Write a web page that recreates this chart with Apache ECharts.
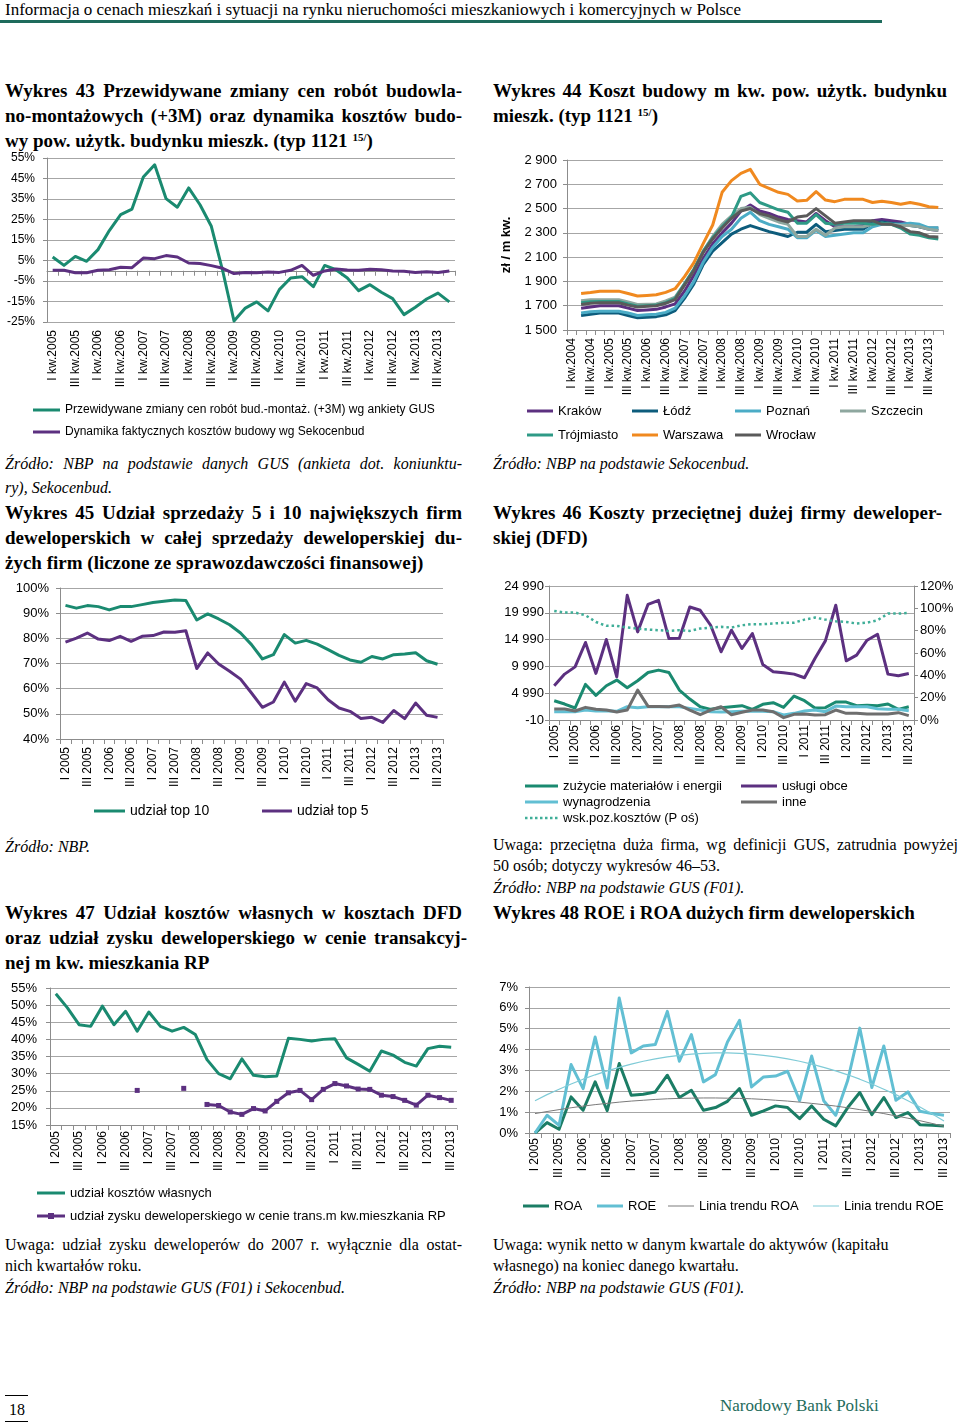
<!DOCTYPE html>
<html><head><meta charset="utf-8">
<script src="https://cdn.jsdelivr.net/npm/echarts@6/dist/echarts.min.js"></script>
<style>
body{margin:0;background:#fff;}
#page{position:relative;width:960px;height:1423px;overflow:hidden;font-family:'Liberation Serif',serif;color:#000;background:#fff;}
.ln{position:absolute;white-space:nowrap;font-size:16px;line-height:22px;}
.b{font-weight:bold;font-size:19px;line-height:25px;}
.i{font-style:italic;}
.j{text-align:justify;text-align-last:justify;white-space:normal;overflow:visible;}
.c{position:absolute;}
sup{font-size:11px;line-height:0;vertical-align:6px;}
</style></head>
<body>
<div id="page">
  <div class="ln" style="left:5px;top:0px;line-height:20px;font-size:17px;">Informacja o cenach mieszkań i sytuacji na rynku nieruchomości mieszkaniowych i komercyjnych w Polsce</div>
  <div style="position:absolute;left:0;top:20px;width:882px;height:3px;background:#1e6b5c;"></div>

  <div class="ln b j" style="left:5px;top:78px;width:457px;">Wykres 43 Przewidywane zmiany cen robót budowla-</div>
  <div class="ln b j" style="left:5px;top:103px;width:457px;">no-montażowych (+3M) oraz dynamika kosztów budo-</div>
  <div class="ln b" style="left:5px;top:128px;">wy pow. użytk. budynku mieszk. (typ 1121 <sup>15/</sup>)</div>

  <div class="ln b j" style="left:493px;top:78px;width:454px;">Wykres 44 Koszt budowy m kw. pow. użytk. budynku</div>
  <div class="ln b" style="left:493px;top:103px;">mieszk. (typ 1121 <sup>15/</sup>)</div>

  <div id="c43" class="c" style="left:0;top:150px;width:480px;height:300px;"></div>
  <div id="c44" class="c" style="left:490px;top:140px;width:470px;height:310px;"></div>

  <div class="ln i j" style="left:5px;top:453px;width:457px;">Źródło: NBP na podstawie danych GUS (ankieta dot. koniunktu-</div>
  <div class="ln i" style="left:5px;top:477px;">ry), Sekocenbud.</div>
  <div class="ln i" style="left:493px;top:453px;">Źródło: NBP na podstawie Sekocenbud.</div>

  <div class="ln b j" style="left:5px;top:500px;width:457px;">Wykres 45 Udział sprzedaży 5 i 10 największych firm</div>
  <div class="ln b j" style="left:5px;top:525px;width:457px;">deweloperskich w całej sprzedaży deweloperskiej du-</div>
  <div class="ln b" style="left:5px;top:550px;">żych firm (liczone ze sprawozdawczości finansowej)</div>

  <div class="ln b j" style="left:493px;top:500px;width:449px;">Wykres 46 Koszty przeciętnej dużej firmy deweloper-</div>
  <div class="ln b" style="left:493px;top:525px;">skiej (DFD)</div>

  <div id="c45" class="c" style="left:0;top:575px;width:480px;height:260px;"></div>
  <div id="c46" class="c" style="left:490px;top:570px;width:470px;height:260px;"></div>

  <div class="ln i" style="left:5px;top:836px;">Źródło: NBP.</div>
  <div class="ln j" style="left:493px;top:834px;width:465px;">Uwaga: przeciętna duża firma, wg definicji GUS, zatrudnia powyżej</div>
  <div class="ln" style="left:493px;top:855px;">50 osób; dotyczy wykresów 46–53.</div>
  <div class="ln i" style="left:493px;top:877px;">Źródło: NBP na podstawie GUS (F01).</div>
  <div class="ln b" style="left:493px;top:900px;">Wykres 48 ROE i ROA dużych firm deweloperskich</div>

  <div class="ln b j" style="left:5px;top:900px;width:457px;">Wykres 47 Udział kosztów własnych w kosztach DFD</div>
  <div class="ln b j" style="left:5px;top:925px;width:462px;">oraz udział zysku deweloperskiego w cenie transakcyj-</div>
  <div class="ln b" style="left:5px;top:950px;">nej m kw. mieszkania RP</div>

  <div id="c47" class="c" style="left:0;top:975px;width:480px;height:255px;"></div>
  <div id="c48" class="c" style="left:490px;top:975px;width:470px;height:245px;"></div>

  <div class="ln j" style="left:5px;top:1234px;width:457px;">Uwaga: udział zysku deweloperów do 2007 r. wyłącznie dla ostat-</div>
  <div class="ln" style="left:5px;top:1255px;">nich kwartałów roku.</div>
  <div class="ln i" style="left:5px;top:1277px;">Źródło: NBP na podstawie GUS (F01) i Sekocenbud.</div>

  <div class="ln" style="left:493px;top:1234px;">Uwaga: wynik netto w danym kwartale do aktywów (kapitału</div>
  <div class="ln" style="left:493px;top:1255px;">własnego) na koniec danego kwartału.</div>
  <div class="ln i" style="left:493px;top:1277px;">Źródło: NBP na podstawie GUS (F01).</div>

  <div style="position:absolute;left:5px;top:1395px;width:23px;height:1px;background:#000;"></div>
  <div class="ln" style="left:9px;top:1399px;font-size:16px;">18</div>
  <div style="position:absolute;left:5px;top:1421px;width:23px;height:1px;background:#000;"></div>
  <div class="ln" style="left:720px;top:1395px;font-size:17px;color:#1e6b5c;">Narodowy Bank Polski</div>
</div>
<script>
// ---------- DATA ----------
const cats43 = ['I kw.2005','II kw.2005','III kw.2005','IV kw.2005','I kw.2006','II kw.2006','III kw.2006','IV kw.2006','I kw.2007','II kw.2007','III kw.2007','IV kw.2007','I kw.2008','II kw.2008','III kw.2008','IV kw.2008','I kw.2009','II kw.2009','III kw.2009','IV kw.2009','I kw.2010','II kw.2010','III kw.2010','IV kw.2010','I kw.2011','II kw.2011','III kw.2011','IV kw.2011','I kw.2012','II kw.2012','III kw.2012','IV kw.2012','I kw.2013','II kw.2013','III kw.2013','IV kw.2013'];
const gusExpected = [6.7,2.6,7.0,4.6,10.3,19.6,27.4,30.1,45.7,51.7,35.2,31.0,40.4,32.2,21.7,0,-24.5,-18.2,-15.2,-19.6,-9.2,-3.5,-2.9,-7.8,2.6,0.5,-3.5,-9.7,-6.8,-10.5,-13.6,-21.4,-17.8,-13.8,-10.9,-15.2];
const sekoDynamics = [0.2,0.2,-1,-1,0.2,0.5,1.7,1.5,6.2,5.9,7.4,6.7,3.8,3.5,2.5,1.2,-1.4,-0.8,-1,-0.6,-0.8,0.2,2.6,-2.2,-0.1,0.9,0.4,0.2,0.7,0.5,-0.1,-0.3,-0.8,-0.5,-0.8,-0.1];

const cats44 = ['I kw.2004','II kw.2004','III kw.2004','IV kw.2004'].concat(cats43);
const krakow   = [null,1680,1690,1700,1700,1700,1680,1660,1665,1670,1690,1715,1820,1950,2090,2210,2300,2380,2480,2530,2480,2460,2430,2410,2400,2390,2460,2400,2350,2350,2350,2360,2400,2410,2400,2390,2370,2350,2330,2320];
const lodz     = [null,1620,1630,1640,1640,1640,1620,1600,1605,1610,1625,1660,1760,1880,2040,2150,2220,2290,2330,2360,2335,2310,2290,2270,2305,2305,2370,2310,2320,2330,2330,2330,2380,2390,2380,2370,2360,2350,2340,2340];
const poznan   = [null,1640,1650,1655,1655,1655,1640,1620,1625,1630,1645,1680,1780,1900,2060,2180,2270,2330,2420,2470,2400,2370,2350,2330,2260,2260,2320,2270,2280,2290,2300,2300,2350,2370,2370,2370,2380,2370,2340,2340];
const szczecin = [null,1740,1750,1750,1750,1750,1730,1710,1712,1715,1740,1770,1880,2000,2150,2270,2370,2440,2500,2510,2450,2420,2390,2370,2270,2270,2330,2280,2340,2350,2350,2350,2370,2380,2370,2360,2360,2350,2330,2320];
const trojmiasto = [null,1725,1732,1735,1735,1735,1715,1695,1700,1705,1725,1760,1880,2000,2150,2260,2350,2430,2600,2630,2550,2520,2490,2470,2380,2380,2450,2380,2370,2380,2380,2380,2370,2380,2370,2340,2290,2280,2260,2250];
const warszawa = [null,1800,1808,1820,1820,1820,1800,1780,1785,1790,1810,1840,1940,2055,2214,2365,2634,2730,2790,2823,2700,2667,2634,2617,2563,2568,2640,2570,2557,2576,2576,2576,2550,2560,2550,2535,2550,2535,2515,2508];
const wroclaw  = [null,1710,1720,1725,1725,1725,1705,1690,1695,1700,1720,1750,1870,1990,2140,2250,2340,2420,2480,2500,2460,2440,2410,2390,2430,2440,2500,2440,2380,2390,2400,2400,2400,2370,2370,2350,2310,2300,2270,2265];

const catsQ = ['I 2005','II 2005','III 2005','IV 2005','I 2006','II 2006','III 2006','IV 2006','I 2007','II 2007','III 2007','IV 2007','I 2008','II 2008','III 2008','IV 2008','I 2009','II 2009','III 2009','IV 2009','I 2010','II 2010','III 2010','IV 2010','I 2011','II 2011','III 2011','IV 2011','I 2012','II 2012','III 2012','IV 2012','I 2013','II 2013','III 2013'];
const top10 = [93.1,92,93,92.6,91.3,92.6,92.6,93.4,94.2,94.7,95.2,95,87.3,89.7,87.7,85.4,82.1,77.5,71.8,73.5,81.5,78.1,79.2,77.7,75.5,73.2,71.4,70.5,72.8,71.8,73.5,73.8,74.3,71.1,69.7];
const top5  = [78.5,80.1,82.1,79.7,79.1,80.8,78.8,80.8,81.1,82.5,82.4,83,68,74.2,69.8,66.9,63.8,58.3,52.6,54.7,62.6,55,62,60.3,55.6,52.3,51,48.1,48.6,46.6,51.3,48.1,54.3,49.4,48.6];

const materials = [3590,2970,2230,6630,4580,6380,7440,6010,7310,8860,9300,8860,5570,3900,2470,1980,2290,2470,2660,1980,2910,3220,2350,4460,3590,2230,2290,3340,3340,2660,2720,2660,2970,1980,2470];
const services  = [6400,8550,9900,14450,8680,15000,8050,23250,16430,21580,22320,15190,15250,21080,20460,17670,12710,16740,13330,16120,10350,8990,8800,8550,7870,11470,14750,21390,11030,12090,14880,15990,8550,8240,8680];
const wages     = [1540,1540,1540,1850,1670,1730,1600,2470,2290,2470,2470,2470,2470,2160,1850,1540,1480,1540,1600,1670,1600,1540,920,1230,1670,1850,1540,2590,2470,2470,2470,2100,1980,1980,1730];
const other     = [2040,2040,1670,2350,1980,1850,1480,1850,5570,2530,2530,2470,2780,1850,980,1850,2470,980,1420,1850,1850,1540,430,1050,1110,920,980,1850,1230,1230,1110,1110,1110,1360,800];
const costIndex = [97.7,96.2,96.2,93.8,87.8,84.3,84.3,82.8,81.9,81,80.4,79.8,80.4,79.8,81.9,82.8,83.4,82.8,84.9,85.8,85.8,86.4,87,87.2,89.9,91.7,89.9,88.4,87.8,86.4,87.2,89.3,95.3,95.3,95.9];

const ownCostShare = [53.3,49.2,44.3,43.8,49.7,44.3,48.2,42.4,48,43.8,42.4,43.5,41.4,34.1,30,28.5,34.3,29.5,29.1,29.3,40.3,40,39.5,40,40.2,34.6,32.7,30.7,36.6,35.4,33.3,32.2,37.3,38,37.7];
const profitShare  = [null,null,null,null,null,null,null,25.1,null,null,null,25.7,null,21,20.7,18.8,18.1,19.8,19.1,21.9,24.4,25.1,22.4,25.4,27.1,26.4,25.5,25.4,23.7,23.3,22.2,20.8,23.7,23,22.2];

const roa = [0,0.5,0.18,1.73,1.09,2.45,1.07,3.33,1.81,1.86,1.97,2.77,1.7,2.05,1.09,1.22,1.52,2.13,0.85,1.06,1.3,1.22,0.69,1.3,0.66,0.34,1.22,1.94,0.88,1.7,0.74,0.98,0.4,0.37,0.34];
const roe = [0,0.85,0.37,3.28,2.13,4.6,2.16,6.47,3.84,4.17,4.24,5.83,3.44,4.72,2.45,2.8,4.36,5.4,2.21,2.69,2.73,2.96,1.55,3.69,1.55,0.85,2.53,5.03,2.18,4.17,1.57,1.97,1.04,0.93,0.85];
const roaTrend = [0.93,1.03,1.12,1.21,1.29,1.36,1.42,1.48,1.53,1.57,1.61,1.64,1.66,1.67,1.68,1.68,1.67,1.66,1.64,1.61,1.57,1.53,1.48,1.42,1.36,1.29,1.21,1.12,1.03,0.93,0.82,0.71,0.59,0.46,0.32];
const roeTrend = [1.55,1.84,2.10,2.35,2.58,2.79,2.98,3.15,3.30,3.44,3.55,3.65,3.72,3.78,3.82,3.84,3.84,3.82,3.78,3.72,3.65,3.55,3.44,3.30,3.15,2.98,2.79,2.58,2.35,2.10,1.84,1.55,1.25,0.92,0.58];

// ---------- STYLE HELPERS ----------
const FONT = 'Liberation Sans';
const GRIDC = '#a6a6a6';
const AXC = '#8c8c8c';
const GREEN = '#1a8a70', PURPLE = '#5c3080';

function xCat(data, o) {
  o = o || {};
  return {
    type: 'category', data: data, boundaryGap: true, position: o.position || 'bottom',
    axisLine: { show: o.line !== false, onZero: !!o.onZero, lineStyle: { color: AXC, width: 1 } },
    axisTick: { show: o.tick !== false, interval: 0, length: 5, lineStyle: { color: AXC } },
    axisLabel: { show: o.label !== false, interval: 1, rotate: 90, fontSize: o.fs || 12, color: '#000', margin: o.margin == null ? 8 : o.margin, fontFamily: FONT },
    splitLine: { show: false }
  };
}
function yVal(min, max, interval, fmt, o) {
  o = o || {};
  return Object.assign({
    type: 'value', min: min, max: max, interval: interval, position: o.position || 'left',
    axisLine: { show: true, lineStyle: { color: AXC } },
    axisTick: { show: true, length: 4, lineStyle: { color: AXC } },
    splitLine: { show: o.split !== false, lineStyle: { color: GRIDC, width: 1 } },
    axisLabel: { formatter: fmt, fontSize: o.fs || 12, color: '#000', margin: o.margin == null ? 10 : o.margin, fontFamily: FONT }
  }, o.extra || {});
}
function ser(name, data, color, o) {
  o = o || {};
  return Object.assign({
    name: name, type: 'line', data: data, symbol: 'none', showSymbol: false,
    lineStyle: { color: color, width: o.width || 3, type: o.type || 'solid', cap: 'butt', join: 'round' },
    itemStyle: { color: color, borderWidth: 0 }, emphasis: { disabled: true }, silent: true, animation: false,
    yAxisIndex: o.yAxisIndex || 0, xAxisIndex: 0
  }, o.extra || {});
}
// legend icon shapes (drawn inside a w x 14 box)
function iconPath(kind, w) {
  let p = 'path://M0,0M' + w + ',14';
  if (kind === 'thin') p += 'M0,6.5h' + w + 'v1h-' + w + 'z';
  else if (kind === 'dot') { for (let x = 0; x + 2.5 <= w; x += 5) p += 'M' + x + ',5.75h2.5v2.5h-2.5z'; }
  else if (kind === 'mark') p += 'M0,5.5h' + w + 'v3h-' + w + 'z' + 'M' + (w / 2 - 3) + ',4h6v6h-6z';
  else p += 'M0,5.5h' + w + 'v3h-' + w + 'z';
  return p;
}
function leg(name, left, center, w, fs, kind) {
  return { data: [{ name: name, icon: iconPath(kind || 'line', w) }], left: left, top: center - 7, itemWidth: w, itemHeight: 14, itemGap: 0, padding: 0,
    selectedMode: false, itemStyle: { borderWidth: 0 }, textStyle: { fontSize: fs, color: '#000', fontFamily: FONT } };
}
const sp = v => String(v).replace(/\B(?=(\d{3})+(?!\d))/g, ' ');
function mk(id, opt) {
  const ch = echarts.init(document.getElementById(id), null, { renderer: 'canvas' });
  opt.animation = false;
  opt.textStyle = { fontFamily: FONT };
  ch.setOption(opt);
}

// ---------- CHART 43 ----------
mk('c43', {
  grid: { left: 47, right: 25, top: 8, bottom: 128 },
  xAxis: [xCat(cats43, { line: false, tick: false }), xCat(cats43, { onZero: true, label: false })],
  yAxis: yVal(-25, 55, 10, '{value}%', { margin: 12 }),
  legend: [leg('Przewidywane zmiany cen robót bud.-montaż. (+3M) wg ankiety GUS', 33, 260, 27, 12),
           leg('Dynamika faktycznych kosztów budowy wg Sekocenbud', 33, 282, 27, 12)],
  series: [ser('Przewidywane zmiany cen robót bud.-montaż. (+3M) wg ankiety GUS', gusExpected, GREEN),
           ser('Dynamika faktycznych kosztów budowy wg Sekocenbud', sekoDynamics, PURPLE)]
});

// ---------- CHART 44 ----------
const C44 = { k: '#5c3080', l: '#0d5c7c', p: '#4bacc6', s: '#8ea79f', t: '#2e9a86', w: '#f0891f', r: '#5a5a5a' };
mk('c44', {
  grid: { left: 77, right: 17, top: 20, bottom: 120 },
  xAxis: xCat(cats44, {}),
  yAxis: yVal(1500, 2900, 200, sp, { fs: 13, margin: 10, extra: {
    name: 'zł / m kw.', nameLocation: 'middle', nameRotate: 90, nameGap: 54,
    nameTextStyle: { fontWeight: 'bold', fontSize: 13, color: '#000', fontFamily: FONT } } }),
  legend: [leg('Kraków', 37, 271, 26, 13), leg('Łódź', 142, 271, 26, 13), leg('Poznań', 245, 271, 26, 13), leg('Szczecin', 350, 271, 26, 13),
           leg('Trójmiasto', 37, 295, 26, 13), leg('Warszawa', 142, 295, 26, 13), leg('Wrocław', 245, 295, 26, 13)],
  series: [ser('Kraków', krakow, C44.k), ser('Łódź', lodz, C44.l), ser('Poznań', poznan, C44.p), ser('Szczecin', szczecin, C44.s),
           ser('Trójmiasto', trojmiasto, C44.t), ser('Warszawa', warszawa, C44.w), ser('Wrocław', wroclaw, C44.r)]
});

// ---------- CHART 45 ----------
mk('c45', {
  grid: { left: 60, right: 37, top: 13, bottom: 96 },
  xAxis: xCat(catsQ, {}),
  yAxis: yVal(40, 100, 10, '{value}%', { fs: 13, margin: 11 }),
  legend: [leg('udział top 10', 94, 236, 31, 14), leg('udział top 5', 262, 236, 30, 14)],
  series: [ser('udział top 10', top10, GREEN), ser('udział top 5', top5, PURPLE)]
});

// ---------- CHART 46 ----------
mk('c46', {
  grid: { left: 59, right: 46, top: 16, bottom: 110 },
  xAxis: xCat(catsQ, { margin: 5 }),
  yAxis: [yVal(-10, 24990, 5000, sp, { fs: 13, margin: 5 }),
          yVal(0, 120, 20, '{value}%', { fs: 13, margin: 6, position: 'right', split: false })],
  legend: [leg('zużycie materiałów i energii', 35, 216, 33, 13), leg('usługi obce', 251, 216, 36, 13),
           leg('wynagrodzenia', 35, 232, 33, 13), leg('inne', 251, 232, 36, 13),
           leg('wsk.poz.kosztów (P oś)', 35, 248, 33, 13, 'dot')],
  series: [ser('zużycie materiałów i energii', materials, '#1a8a70'),
           ser('usługi obce', services, '#5c3080'),
           ser('wynagrodzenia', wages, '#62bfd3'),
           ser('inne', other, '#6e6e6e'),
           ser('wsk.poz.kosztów (P oś)', costIndex, '#3fae98', { yAxisIndex: 1, width: 2.5, type: [2.5, 3] })]
});

// ---------- CHART 47 ----------
mk('c47', {
  grid: { left: 50, right: 23, top: 13, bottom: 105 },
  xAxis: xCat(catsQ, { margin: 6 }),
  yAxis: yVal(15, 55, 5, '{value}%', { fs: 13, margin: 13 }),
  legend: [leg('udział kosztów własnych', 37, 218, 28, 13),
           leg('udział zysku deweloperskiego w cenie trans.m kw.mieszkania RP', 37, 241, 28, 13, 'mark')],
  series: [ser('udział kosztów własnych', ownCostShare, GREEN),
           ser('udział zysku deweloperskiego w cenie trans.m kw.mieszkania RP', profitShare, PURPLE, { extra: {
             symbol: 'rect', symbolSize: 5, showSymbol: true, showAllSymbol: true, connectNulls: false } })]
});

// ---------- CHART 48 ----------
mk('c48', {
  grid: { left: 39, right: 10, top: 12, bottom: 87 },
  xAxis: xCat(catsQ, { margin: 5 }),
  yAxis: yVal(0, 7, 1, '{value}%', { fs: 13, margin: 11 }),
  legend: [leg('ROA', 33, 231, 26, 13), leg('ROE', 107, 231, 26, 13),
           leg('Linia trendu ROA', 178, 231, 26, 13, 'thin'), leg('Linia trendu ROE', 323, 231, 26, 13, 'thin')],
  series: [ser('ROA', roa, '#1b7d65'), ser('ROE', roe, '#62bfd3'),
           ser('Linia trendu ROA', roaTrend, '#7a7a7a', { width: 1 }),
           ser('Linia trendu ROE', roeTrend, '#7fcbd7', { width: 1.2 })]
});
</script>
</body></html>
